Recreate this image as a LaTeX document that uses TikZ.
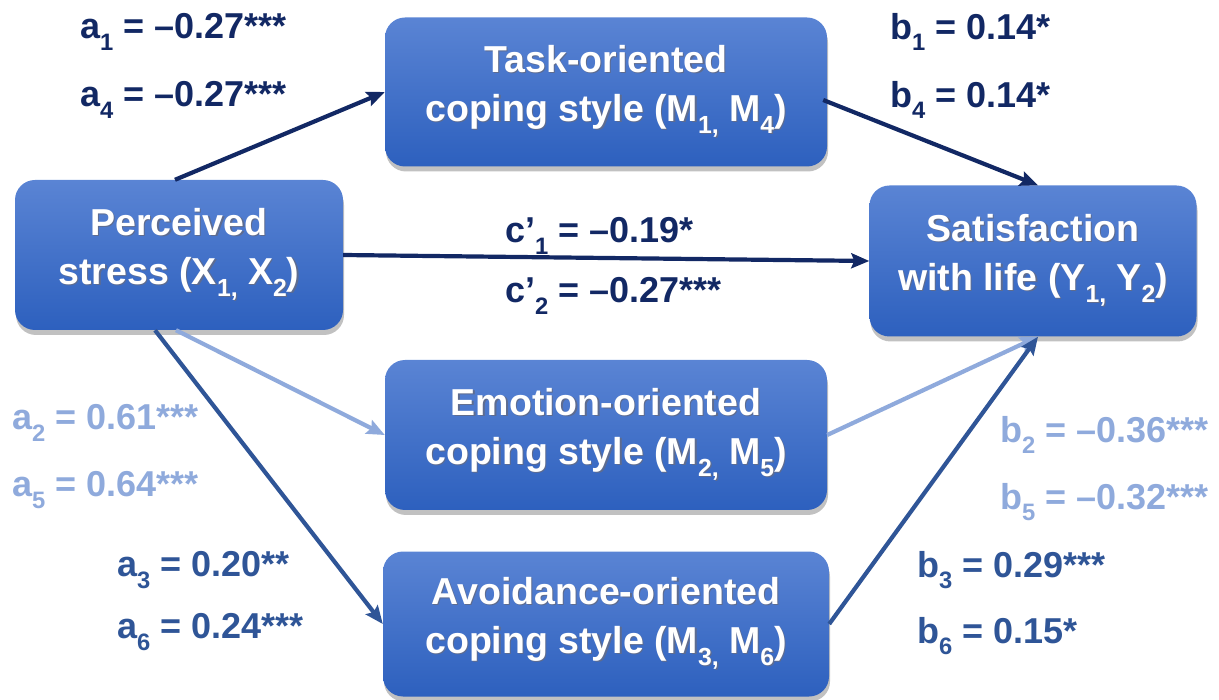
\documentclass[tikz,border=0pt]{standalone}
\usepackage{fontspec}
\usepackage{graphicx}
\setmainfont{Liberation Sans}
\usetikzlibrary{arrows.meta,shadows}

\definecolor{navy}{RGB}{18,40,100}
\definecolor{midblue}{RGB}{47,85,151}
\definecolor{lightblue}{RGB}{143,170,220}
\definecolor{boxtop}{RGB}{90,132,212}
\definecolor{boxbot}{RGB}{45,96,190}
\definecolor{txtshadow}{RGB}{25,45,95}

% lowered, smaller index (subscript)
\newcommand{\lowidx}[1]{\raisebox{-0.32em}{\scalebox{0.66}{#1}}}
% white box text with a soft shadow behind it
\newcommand{\shd}[1]{\leavevmode\rlap{\kern1.3pt\raisebox{-1.3pt}{\color{txtshadow!70}#1}}#1}

\tikzset{
  varbox/.style={rounded corners=20pt, top color=boxtop, bottom color=boxbot,
    text=white, font=\fontsize{37.5}{49}\selectfont\bfseries, align=center,
    inner sep=0pt,
    drop shadow={shadow xshift=1pt, shadow yshift=-5pt, opacity=0.35, fill=black!70}},
  coef/.style={font=\fontsize{36}{36}\selectfont\bfseries, inner sep=0pt, anchor=west},
  path/.style={line width=4.2pt, -{Stealth[length=18pt,width=15pt,inset=3pt]}},
}

\begin{document}
\begin{tikzpicture}[x=1pt,y=-1pt]
\useasboundingbox (0,0) rectangle (1219,700);

% variables
\node[varbox, minimum width=328, minimum height=150] (X) at (179,255)
  {\shd{Perceived}\\\shd{stress (X\lowidx{1,} X\lowidx{2})}};
\node[varbox, minimum width=442, minimum height=149] (T) at (606,92)
  {\shd{Task-oriented}\\\shd{coping style (M\lowidx{1,} M\lowidx{4})}};
\node[varbox, minimum width=442, minimum height=150] (E) at (606,435)
  {\shd{Emotion-oriented}\\\shd{coping style (M\lowidx{2,} M\lowidx{5})}};
\node[varbox, minimum width=446, minimum height=145] (A) at (606,624)
  {\shd{Avoidance-oriented}\\\shd{coping style (M\lowidx{3,} M\lowidx{6})}};
\node[varbox, minimum width=327, minimum height=151] (Y) at (1033,261)
  {\shd{Satisfaction}\\\shd{with life (Y\lowidx{1,} Y\lowidx{2})}};

% paths
\draw[path, navy] ([xshift=-4pt]X.north) -- (T.west);
\draw[path, navy] ([yshift=-8pt,xshift=-4pt]T.east) -- ([xshift=5pt]Y.north);
\draw[path, navy] (X.east) -- (Y.west);
\draw[path, lightblue] ([xshift=-3pt]X.south) -- (E.west);
\draw[path, midblue] ([xshift=-24pt]X.south) -- (A.west);
\draw[path, lightblue] (E.east) -- ([xshift=5pt]Y.south);
\draw[path, midblue] (A.east) -- ([xshift=5pt]Y.south);

% coefficients
\node[coef, text=navy] (la1) at (80,32) {a\lowidx{1} = –0.27***};
\node[coef, text=navy] (la4) at (80,100) {a\lowidx{4} = –0.27***};
\node[coef, text=navy] (lb1) at (890,32) {b\lowidx{1} = 0.14*};
\node[coef, text=navy] (lb4) at (890,100) {b\lowidx{4} = 0.14*};
\node[coef, text=navy] (lc1) at (505,236) {c’\lowidx{1} = –0.19*};
\node[coef, text=navy] (lc2) at (505,296) {c’\lowidx{2} = –0.27***};
\node[coef, text=lightblue] (la2) at (12,423) {a\lowidx{2} = 0.61***};
\node[coef, text=lightblue] (la5) at (12,490) {a\lowidx{5} = 0.64***};
\node[coef, text=midblue] (la3) at (117,570) {a\lowidx{3} = 0.20**};
\node[coef, text=midblue] (la6) at (117,632) {a\lowidx{6} = 0.24***};
\node[coef, text=lightblue] (lb2) at (1000,435) {b\lowidx{2} = –0.36***};
\node[coef, text=lightblue] (lb5) at (1000,502) {b\lowidx{5} = –0.32***};
\node[coef, text=midblue] (lb3) at (917,570) {b\lowidx{3} = 0.29***};
\node[coef, text=midblue] (lb6) at (917,636) {b\lowidx{6} = 0.15*};
\end{tikzpicture}
\end{document}
